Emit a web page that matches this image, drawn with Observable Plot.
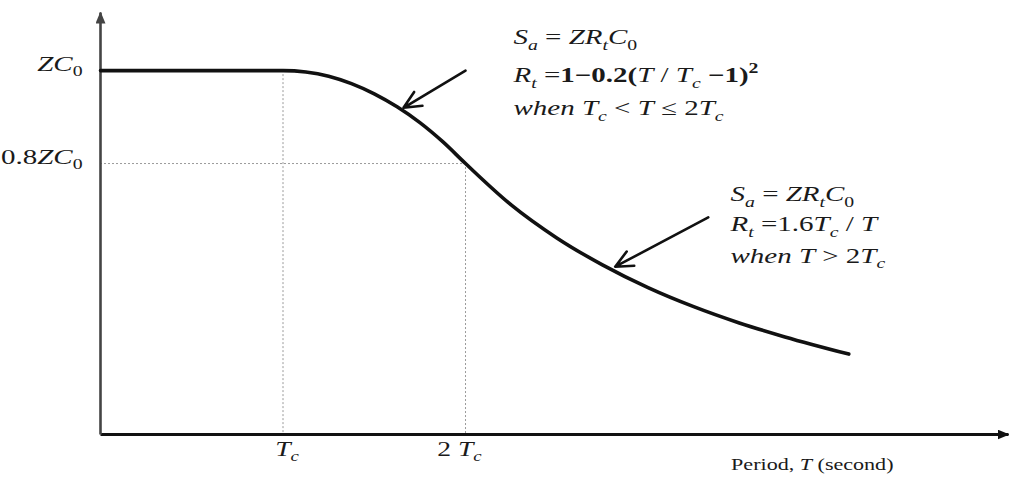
<!DOCTYPE html>
<html>
<head>
<meta charset="utf-8">
<script src="https://cdn.jsdelivr.net/npm/d3@7"></script>
<script src="https://cdn.jsdelivr.net/npm/@observablehq/plot@0.6"></script>
<style>
  body { margin: 0; background: #fff; }
  #chart svg { display: block; }
</style>
</head>
<body>
<div id="chart"></div>
<script>
// Design response spectrum Sa(T): period T in units of Tc, Sa in units of Z·C0.
const periods  = [0, 0.5, 1, 1.125, 1.25, 1.375, 1.5, 1.625, 1.75, 1.875, 2, 2.25, 2.5, 2.75, 3, 3.25, 3.5, 3.75, 4.1];
const spectrum = [1, 1, 1, 0.997, 0.988, 0.972, 0.95, 0.922, 0.888, 0.847, 0.80, 0.711, 0.64, 0.582, 0.533, 0.492, 0.457, 0.427, 0.39];

// Axis extents (x in Tc, y in ZC0)
const xDomain = [0, 4.975];
const yDomain = [0.217, 1.125];

// Tick positions and labels. Markup: {…} italic, *…* bold, _x subscript, ^x superscript
const xTicks = [1, 2];
const xTickLabels = ["{T_c}", "2 {T_c}"];
const yTicks = [1, 0.8];
const yTickLabels = ["{ZC}_0", "0.8{ZC}_0"];
const xAxisLabel = "Period, {T} (second)";

// Call-out arrows: tail -> head, pointing at the two branches of the curve
const arrowTail = [[2.0, 1.0], [3.33, 0.684]];
const arrowHead = [[1.66, 0.92], [2.82, 0.578]];

// Formula notes beside each arrow
const noteX = [2.263, 3.452];
const noteY = [[1.058, 0.976, 0.905], [0.720, 0.655, 0.587]];
const noteLines = [
  ["{S_a} = {ZR_tC}_0", "{R_t} =*1−0.2(*{T} / {T_c} *−1)^2*", "{when T_c} < {T} ≤ 2{T_c}"],
  ["{S_a} = {ZR_tC}_0", "{R_t} =1.6{T_c} / {T}", "{when T} > 2{T_c}"]
];

// Horizontal stretch of the serif lettering
const textStretch = 1.38;

const curve = periods.map((t, i) => ({t, sa: spectrum[i]}));
const arrows = arrowTail.map((a, i) => ({x1: a[0], y1: a[1], x2: arrowHead[i][0], y2: arrowHead[i][1]}));
const notes = noteLines.flatMap((lines, k) => lines.map((text, j) => ({x: noteX[k], y: noteY[k][j], text})));
const guide = {stroke: "#9a9a9a", strokeWidth: 1, strokeDasharray: "2,2"};
const ink = "#1a1a1a";

const chart = Plot.plot({
  width: 1009,
  height: 483,
  marginLeft: 100,
  marginRight: 1,
  marginTop: 12,
  marginBottom: 49,
  style: {fontFamily: "'Liberation Serif', 'Times New Roman', serif", color: ink, background: "#fff"},
  x: {domain: xDomain, axis: null},
  y: {domain: yDomain, axis: null},
  marks: [
    // dotted guides at Tc, 2Tc and 0.8 ZC0
    Plot.ruleX([xTicks[0]], {y1: yTicks[0], y2: yDomain[0], ...guide}),
    Plot.ruleX([xTicks[1]], {y1: yTicks[1], y2: yDomain[0], ...guide}),
    Plot.ruleY([yTicks[1]], {x1: xDomain[0], x2: xTicks[1], ...guide}),
    // axes with arrowheads
    Plot.link([0], {x1: xDomain[0], y1: yDomain[0], x2: xDomain[1], y2: yDomain[0], stroke: "#111", strokeWidth: 3}),
    Plot.link([0], {x1: xDomain[0], y1: yDomain[0], x2: xDomain[0], y2: yDomain[1], stroke: "#444", strokeWidth: 2.6}),
    // spectrum curve
    Plot.line(curve, {x: "t", y: "sa", curve: "monotone-x", stroke: "#111", strokeWidth: 3.6}),
    // call-out arrows
    Plot.arrow(arrows, {x1: "x1", y1: "y1", x2: "x2", y2: "y2", stroke: "#111", strokeWidth: 2.6, headLength: 11, headAngle: 50}),
    // tick labels
    Plot.text(yTicks, {x: xDomain[0], y: d => d, text: (d, i) => yTickLabels[i], textAnchor: "end", dx: -18, fontSize: 21, fill: ink}),
    Plot.text([xTicks[0]], {x: d => d, y: yDomain[0], text: () => xTickLabels[0], dx: 4, dy: 21, fontSize: 20, fill: ink}),
    Plot.text([xTicks[1]], {x: d => d, y: yDomain[0], text: () => xTickLabels[1], dx: -6, dy: 21, fontSize: 20, fill: ink}),
    Plot.text([xAxisLabel], {frameAnchor: "bottom-right", text: d => d, textAnchor: "end", dx: -115, dy: 35, fontSize: 16, fill: ink}),
    // formulas
    Plot.text(notes, {x: "x", y: "y", text: "text", textAnchor: "start", fontSize: 21, fill: ink})
  ]
});

document.getElementById("chart").append(chart);

// Filled arrowheads on the two axes
const svg = d3.select(chart);
const defs = svg.insert("defs", ":first-child");
[["head-x", "#111"], ["head-y", "#444"]].forEach(([id, color]) => {
  defs.append("marker")
    .attr("id", id)
    .attr("viewBox", "0 0 12 10")
    .attr("refX", 11).attr("refY", 5)
    .attr("markerWidth", 12).attr("markerHeight", 10)
    .attr("markerUnits", "userSpaceOnUse")
    .attr("orient", "auto")
    .append("path").attr("d", "M0,0L12,5L0,10Z").attr("fill", color);
});
svg.selectAll('g[aria-label="link"]').each(function (d, i) {
  d3.select(this).selectAll("path").attr("marker-end", `url(#${i === 0 ? "head-x" : "head-y"})`);
});

// Rich text: italics, bold, subscripts and superscripts as tspans
function richText(el) {
  const src = el.textContent;
  if (!/[{}*_^]/.test(src)) return;
  const size = parseFloat(getComputedStyle(el).fontSize) || 20;
  const runs = [];
  let italic = false, bold = false;
  for (let i = 0; i < src.length; i++) {
    let ch = src[i];
    if (ch === "{") { italic = true; continue; }
    if (ch === "}") { italic = false; continue; }
    if (ch === "*") { bold = !bold; continue; }
    let s = 0;
    if (ch === "_" || ch === "^") { s = ch === "_" ? 1 : -1; ch = src[++i]; }
    const last = runs[runs.length - 1];
    if (last && last.italic === italic && last.bold === bold && last.s === s) last.text += ch;
    else runs.push({text: ch, italic, bold, s});
  }
  el.textContent = "";
  let offset = 0;
  for (const r of runs) {
    const target = r.s === 1 ? 0.28 * size : r.s === -1 ? -0.4 * size : 0;
    const t = document.createElementNS("http://www.w3.org/2000/svg", "tspan");
    t.textContent = r.text;
    if (r.italic) t.setAttribute("font-style", "italic");
    if (r.bold) t.setAttribute("font-weight", "bold");
    if (r.s) t.setAttribute("font-size", (0.68 * size).toFixed(1));
    if (target !== offset) t.setAttribute("dy", (target - offset).toFixed(2));
    offset = target;
    el.append(t);
  }
}

// Stretch each label horizontally about its own anchor point
function stretch(el) {
  let tr = el.getAttribute("transform") || "";
  const x = el.getAttribute("x"), y = el.getAttribute("y");
  if (x != null || y != null) {
    tr = `${tr} translate(${+x || 0},${+y || 0})`;
    el.removeAttribute("x");
    el.removeAttribute("y");
  }
  el.setAttribute("transform", `${tr} scale(${textStretch},1)`);
}

svg.selectAll("text").each(function () { richText(this); stretch(this); });
</script>
</body>
</html>
